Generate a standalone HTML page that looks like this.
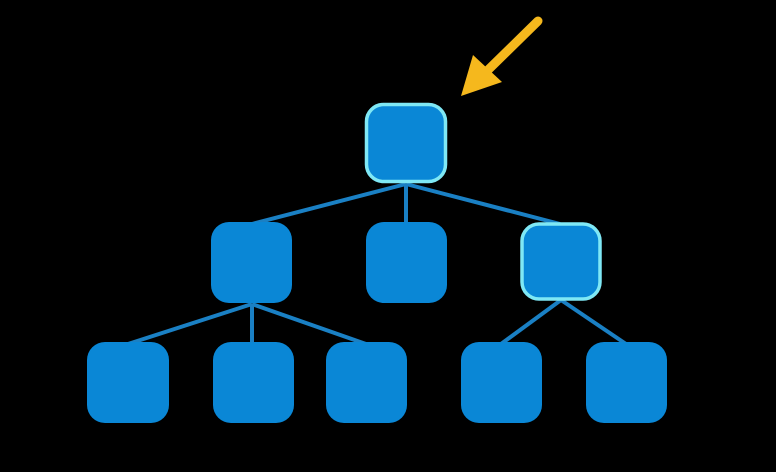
<!DOCTYPE html>
<html><head><style>html,body{margin:0;padding:0;background:#000;width:776px;height:472px;overflow:hidden}</style></head>
<body>
<svg width="776" height="472" viewBox="0 0 776 472" xmlns="http://www.w3.org/2000/svg">
<rect width="776" height="472" fill="#000"/>
<g stroke="#1a80c4" stroke-width="4" fill="none">
<line x1="406" y1="184" x2="252" y2="224"/>
<line x1="406" y1="184" x2="406" y2="224"/>
<line x1="406" y1="184" x2="560" y2="224"/>
<line x1="252" y1="304" x2="128" y2="344"/>
<line x1="252" y1="304" x2="252" y2="344"/>
<line x1="252" y1="304" x2="366" y2="344"/>
<line x1="561" y1="300" x2="501" y2="344"/>
<line x1="561" y1="300" x2="626" y2="344"/>
</g>
<g fill="#0a87d6">
<rect x="211" y="222" width="81" height="81" rx="18"/>
<rect x="366" y="222" width="81" height="81" rx="18"/>
<rect x="87" y="342" width="82" height="81" rx="18"/>
<rect x="213" y="342" width="81" height="81" rx="18"/>
<rect x="326" y="342" width="81" height="81" rx="18"/>
<rect x="461" y="342" width="81" height="81" rx="18"/>
<rect x="586" y="342" width="81" height="81" rx="18"/>
</g>
<g fill="#0a87d6" stroke="#7fe8f5" stroke-width="3.5">
<rect x="366.5" y="104.5" width="79" height="77" rx="17"/>
<rect x="522" y="224" width="78" height="75" rx="17"/>
</g>
<line x1="538" y1="21" x2="488" y2="70" stroke="#f5b81d" stroke-width="9" stroke-linecap="round"/>
<polygon points="461,96 473,55 502,82" fill="#f5b81d"/>
</svg>
</body></html>
